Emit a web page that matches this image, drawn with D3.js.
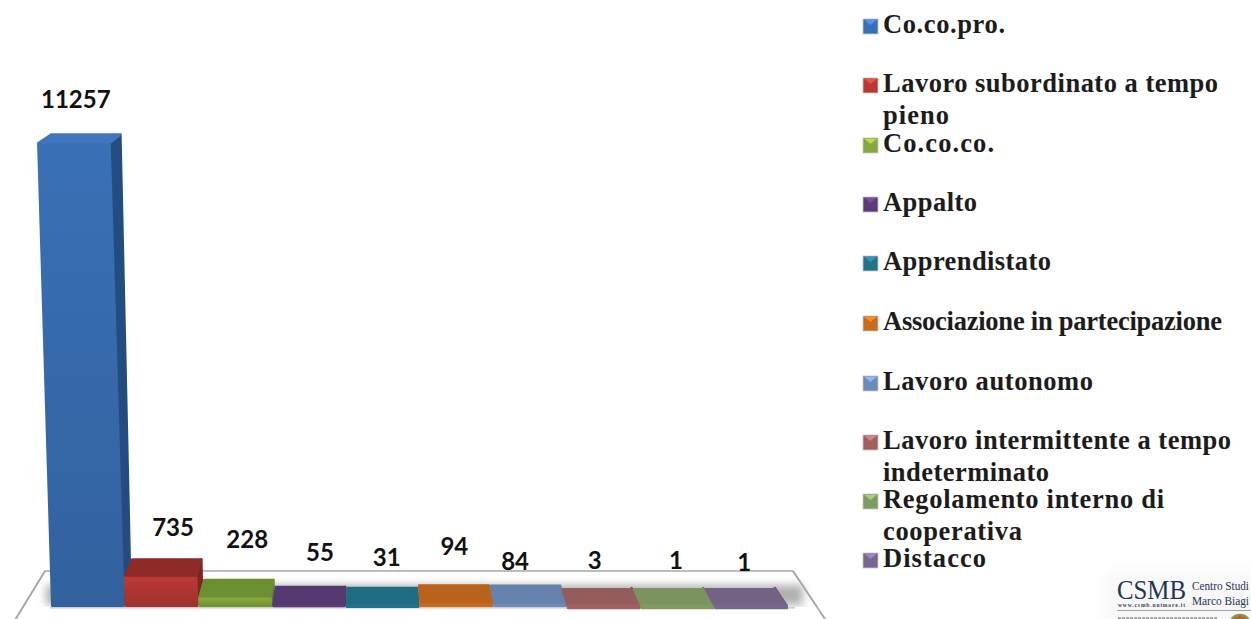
<!DOCTYPE html>
<html lang="it">
<head>
<meta charset="utf-8">
<title>Tipologie contrattuali</title>
<script src="https://cdn.jsdelivr.net/npm/d3@7/dist/d3.min.js"></script>
<style>
html,body{margin:0;padding:0;background:#fff;overflow:hidden}
svg{display:block}
.val{font-family:Lato,"Open Sans",sans-serif;font-weight:700;font-size:24px;fill:#111;text-anchor:middle}
.leg{font-family:"Liberation Serif",serif;font-weight:700;font-size:26.5px;fill:#1c1c1c}
</style>
</head>
<body>
<svg id="chart" width="1251" height="619"></svg>
<script>
// Contract types and the number of contracts for each
const categories = ["Co.co.pro.", "Lavoro subordinato a tempo pieno", "Co.co.co.", "Appalto", "Apprendistato",
  "Associazione in partecipazione", "Lavoro autonomo", "Lavoro intermittente a tempo indeterminato",
  "Regolamento interno di cooperativa", "Distacco"];
const values = [11257, 735, 228, 55, 31, 94, 84, 3, 1, 1];

// Face colours of each box: front, top, side
const frontColors = ["#3a70b6", "#b93935", "#84a93a", "#5c3b78", "#23728c", "#c96a1c", "#6d8bb8", "#a06060", "#7f9a62", "#786590"];
const topColors   = ["#3f76bd", "#8e2a27", "#6c8f30", "#553970", "#206c84", "#b9621b", "#6583ad", "#945c5c", "#7b9360", "#746285"];
const sideColors  = ["#234d80", "#7e2421", "#5c7a28", "#46305e", "#1b5a6e", "#a05316", "#557099", "#7c4b4b", "#66804e", "#5f5070"];

// Legend wording, broken where the lines wrap, with the set width of each line
const legendLines = [["Co.co.pro."], ["Lavoro subordinato a tempo", "pieno"], ["Co.co.co."], ["Appalto"], ["Apprendistato"],
  ["Associazione in partecipazione"], ["Lavoro autonomo"], ["Lavoro intermittente a tempo", "indeterminato"],
  ["Regolamento interno di", "cooperativa"], ["Distacco"]];
const legendWidths = [[122], [335, 66], [111], [94], [168], [339], [210], [348, 166], [281, 139], [103]];
const legendBaselines = [33, 92, 152, 211, 270, 330, 390, 449, 508, 567];

// Hand placement of the value labels relative to their box
const labelNudgeX = [-12, 11.5, 12, 11, 4, -2, -15, -9, -1.5, -7];
const labelNudgeY = [-35, -41, -50, -44, -40, -48, -33.5, -38, -38, -36];

const svg = d3.select("#chart");
const defs = svg.append("defs");
defs.append("filter").attr("id", "soft").attr("x", "-10%").attr("y", "-60%").attr("width", "120%").attr("height", "220%")
  .append("feGaussianBlur").attr("stdDeviation", 4);
defs.append("filter").attr("id", "logoShade").attr("x", "-20%").attr("y", "-20%").attr("width", "140%").attr("height", "140%")
  .append("feGaussianBlur").attr("stdDeviation", 8);
frontColors.forEach((c, i) => {
  const g = defs.append("linearGradient").attr("id", `front${i}`).attr("x1", 0).attr("x2", 0).attr("y1", 0).attr("y2", 1);
  g.append("stop").attr("offset", 0).attr("stop-color", c);
  g.append("stop").attr("offset", 1).attr("stop-color", i < 3 ? d3.color(c).darker(0.4) : c);
});

const baseY = 607;
const y = d3.scaleLinear().domain([0, 11257]).range([baseY, 143]);
const frontX = d3.scaleBand().domain(d3.range(values.length)).range([51, 788]).paddingInner(0);
const backX = d3.scaleBand().domain(d3.range(values.length)).range([60, 776]).paddingInner(0);

// Floor of the 3D plot
svg.append("path")
  .attr("d", d3.line()([[12, 625], [45, 571], [793, 571], [829, 625]]))
  .attr("fill", "#fff").attr("stroke", "#a8a8a8").attr("stroke-width", 1.6);

// Shadow the boxes throw on the floor
svg.append("rect").attr("x", 46).attr("y", 585).attr("width", 757).attr("height", 20)
  .attr("fill", "#b0b0b0").attr("filter", "url(#soft)");
svg.append("rect").attr("x", 30).attr("y", 607).attr("width", 790).attr("height", 14).attr("fill", "#fff");
svg.append("rect").attr("x", 50).attr("y", 607).attr("width", 745).attr("height", 1.6).attr("fill", "#cfcfcf");
svg.append("path")
  .attr("d", d3.line()([[12, 625], [45, 571]])).attr("stroke", "#a8a8a8").attr("stroke-width", 1.6);
svg.append("path")
  .attr("d", d3.line()([[793, 571], [829, 625]])).attr("stroke", "#a8a8a8").attr("stroke-width", 1.6);

// Boxes: leaning outward with height, and with less visible top as they rise
const line = d3.line();
const boxes = svg.append("g").selectAll("g").data(values).join("g");
const inset = 1.2;
function geometry(v, i) {
  const h = baseY - y(v);
  const f0 = frontX(i) + inset, w = frontX.bandwidth() - 2 * inset;
  const b0 = backX(i) + inset, bw = backX.bandwidth() - 2 * inset;
  const sf = h * 0.03, sb = h * 0.0215;
  const depth = 19 - h * 0.02;
  const top = baseY - h;
  return {
    front: [[f0, baseY - inset], [f0 - sf, top + inset], [f0 + w - sf, top + inset], [f0 + w, baseY - inset]],
    top: [[f0 - sf, top], [f0 + w - sf, top], [b0 + bw - sb, top - depth + inset], [b0 - sb, top - depth + inset]],
    side: [[f0 + w, baseY - inset], [f0 + w - sf, top], [b0 + bw - sb, top - depth + inset], [b0 + bw, baseY - 19]]
  };
}
function face(name, colors, paint) {
  const p = paint || ((d, i) => colors[i]);
  boxes.append("path")
    .attr("d", (d, i) => line(geometry(d, i)[name]) + "Z")
    .attr("fill", p)
    .attr("stroke", p)
    .attr("stroke-width", 2.4)
    .attr("stroke-linejoin", "round");
}
face("side", sideColors);
face("top", topColors);
// The flattest boxes have no height for a gradient to span, so they keep a plain colour
face("front", frontColors, (d, i) => i < 3 ? `url(#front${i})` : frontColors[i]);

// Value labels
svg.append("g").selectAll("text").data(values).join("text")
  .attr("class", "val")
  .attr("x", (d, i) => frontX(i) + frontX.bandwidth() / 2 + labelNudgeX[i])
  .attr("y", (d, i) => y(d) + labelNudgeY[i])
  .text(d => d);

// Legend
const legend = svg.append("g").selectAll("g").data(categories).join("g")
  .attr("transform", (d, i) => `translate(863,${legendBaselines[i]})`);
legend.append("rect").attr("x", 0).attr("y", -14).attr("width", 15).attr("height", 15)
  .attr("fill", (d, i) => frontColors[i]).attr("stroke", "#c9c9c9").attr("stroke-width", 0.8);
legend.append("path").attr("d", "M1.5,-13 H13.5 L7.5,-8 Z").attr("fill", (d, i) => d3.color(frontColors[i]).brighter(0.8));
legend.each(function (d, i) {
  const g = d3.select(this);
  legendLines[i].forEach((t, j) => {
    g.append("text").attr("class", "leg").attr("x", 20).attr("y", j * 32)
      .attr("textLength", legendWidths[i][j]).attr("lengthAdjust", "spacing").text(t);
  });
});

// Publisher's mark in the corner
const logo = svg.append("g");
logo.append("rect").attr("x", 1105).attr("y", 572).attr("width", 160).attr("height", 60)
  .attr("fill", "#e6e6e6").attr("opacity", 0.3).attr("filter", "url(#logoShade)");
logo.append("text").attr("x", 1117).attr("y", 599).attr("font-family", "Liberation Serif").attr("font-size", 27)
  .attr("fill", "#1f3556").attr("textLength", 69).attr("lengthAdjust", "spacingAndGlyphs").text("CSMB");
logo.append("text").attr("x", 1118).attr("y", 606.5).attr("font-family", "Liberation Serif").attr("font-weight", 700).attr("font-size", 5.5)
  .attr("fill", "#33425c").attr("textLength", 67).text("www.csmb.unimore.it");
logo.append("text").attr("x", 1192).attr("y", 590).attr("font-family", "Liberation Serif").attr("font-size", 12)
  .attr("fill", "#1f3556").attr("textLength", 57).attr("lengthAdjust", "spacingAndGlyphs").text("Centro Studi");
logo.append("text").attr("x", 1192).attr("y", 605).attr("font-family", "Liberation Serif").attr("font-size", 12)
  .attr("fill", "#1f3556").attr("textLength", 57).attr("lengthAdjust", "spacingAndGlyphs").text("Marco Biagi");
logo.append("line").attr("x1", 1117).attr("x2", 1251).attr("y1", 610.5).attr("y2", 610.5).attr("stroke", "#9aa3b2").attr("stroke-width", 1);
logo.append("line").attr("x1", 1118).attr("x2", 1218).attr("y1", 618).attr("y2", 618).attr("stroke", "#8a8a8a").attr("stroke-width", 1.4).attr("stroke-dasharray", "3 1");
logo.append("circle").attr("cx", 1240).attr("cy", 625).attr("r", 10).attr("fill", "#c9583a").attr("stroke", "#7d9a45").attr("stroke-width", 2.5);
</script>
</body>
</html>
